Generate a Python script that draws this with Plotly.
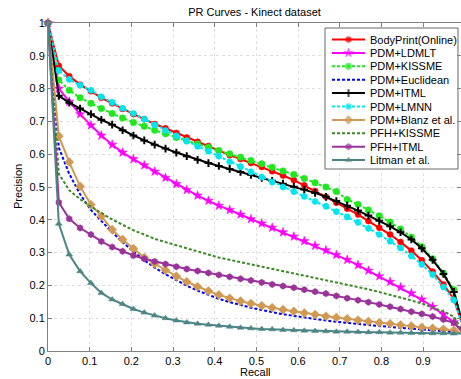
import plotly.graph_objects as go

# ---------------- data ----------------
recall = [0.0, 0.026, 0.051, 0.077, 0.103, 0.128, 0.154, 0.179, 0.205, 0.231,
          0.256, 0.282, 0.308, 0.333, 0.359, 0.385, 0.410, 0.436, 0.462, 0.487,
          0.513, 0.538, 0.564, 0.590, 0.615, 0.641, 0.667, 0.692, 0.718, 0.744,
          0.769, 0.795, 0.821, 0.846, 0.872, 0.897, 0.923, 0.949, 0.974, 1.0]

bodyprint = [1.0, 0.870, 0.838, 0.812, 0.792, 0.772, 0.755, 0.738, 0.722, 0.707,
             0.692, 0.679, 0.665, 0.651, 0.638, 0.625, 0.610, 0.597, 0.585, 0.573,
             0.561, 0.548, 0.535, 0.521, 0.505, 0.488, 0.470, 0.452, 0.434, 0.416,
             0.396, 0.376, 0.355, 0.332, 0.306, 0.277, 0.242, 0.203, 0.158, 0.060]
pdm_ldmlt = [1.0, 0.800, 0.760, 0.722, 0.688, 0.657, 0.629, 0.605, 0.585, 0.566,
             0.547, 0.528, 0.509, 0.491, 0.474, 0.458, 0.443, 0.430, 0.416, 0.402,
             0.389, 0.376, 0.362, 0.349, 0.335, 0.321, 0.307, 0.293, 0.278, 0.262,
             0.245, 0.228, 0.211, 0.194, 0.176, 0.157, 0.135, 0.112, 0.088, 0.050]
pdm_kissme = [1.0, 0.826, 0.795, 0.772, 0.755, 0.739, 0.724, 0.710, 0.697, 0.685,
              0.673, 0.662, 0.651, 0.641, 0.631, 0.621, 0.611, 0.601, 0.591, 0.581,
              0.571, 0.560, 0.549, 0.538, 0.526, 0.513, 0.500, 0.486, 0.462, 0.447,
              0.430, 0.412, 0.393, 0.372, 0.347, 0.318, 0.281, 0.237, 0.187, 0.060]
pdm_euclid = [1.0, 0.620, 0.540, 0.478, 0.430, 0.396, 0.362, 0.332, 0.303, 0.277,
              0.254, 0.234, 0.216, 0.199, 0.184, 0.171, 0.159, 0.149, 0.140, 0.132,
              0.125, 0.118, 0.112, 0.107, 0.102, 0.097, 0.093, 0.089, 0.085, 0.082,
              0.079, 0.076, 0.073, 0.071, 0.068, 0.066, 0.063, 0.061, 0.058, 0.053]
pdm_itml = [1.0, 0.778, 0.757, 0.739, 0.722, 0.705, 0.690, 0.673, 0.657, 0.642,
            0.629, 0.617, 0.605, 0.594, 0.583, 0.573, 0.564, 0.555, 0.546, 0.537,
            0.528, 0.519, 0.510, 0.501, 0.492, 0.482, 0.470, 0.457, 0.443, 0.428,
            0.413, 0.397, 0.380, 0.362, 0.340, 0.313, 0.278, 0.235, 0.180, 0.060]
pdm_lmnn = [1.0, 0.855, 0.828, 0.810, 0.795, 0.775, 0.758, 0.740, 0.724, 0.707,
            0.689, 0.672, 0.656, 0.640, 0.624, 0.609, 0.594, 0.577, 0.562, 0.546,
            0.530, 0.515, 0.500, 0.486, 0.471, 0.456, 0.441, 0.425, 0.409, 0.392,
            0.374, 0.355, 0.335, 0.314, 0.290, 0.264, 0.233, 0.195, 0.155, 0.060]
pdm_blanz = [1.0, 0.655, 0.576, 0.502, 0.446, 0.411, 0.370, 0.340, 0.312, 0.285,
             0.266, 0.246, 0.228, 0.211, 0.196, 0.183, 0.171, 0.161, 0.152, 0.145,
             0.138, 0.132, 0.126, 0.121, 0.116, 0.111, 0.106, 0.102, 0.098, 0.094,
             0.090, 0.086, 0.083, 0.079, 0.076, 0.072, 0.069, 0.066, 0.063, 0.050]
pfh_kissme = [1.0, 0.540, 0.490, 0.463, 0.440, 0.420, 0.401, 0.385, 0.368, 0.355,
              0.342, 0.332, 0.322, 0.312, 0.302, 0.294, 0.285, 0.278, 0.271, 0.264,
              0.257, 0.250, 0.244, 0.237, 0.231, 0.224, 0.217, 0.210, 0.203, 0.196,
              0.188, 0.180, 0.172, 0.163, 0.154, 0.145, 0.133, 0.120, 0.105, 0.050]
pfh_itml = [1.0, 0.453, 0.403, 0.375, 0.355, 0.334, 0.317, 0.304, 0.291, 0.281,
            0.273, 0.265, 0.257, 0.250, 0.244, 0.238, 0.232, 0.226, 0.220, 0.215,
            0.209, 0.203, 0.198, 0.193, 0.187, 0.181, 0.175, 0.168, 0.161, 0.155,
            0.149, 0.142, 0.135, 0.128, 0.120, 0.113, 0.105, 0.096, 0.086, 0.050]
litman = [1.0, 0.388, 0.294, 0.243, 0.207, 0.177, 0.157, 0.143, 0.128, 0.117,
          0.108, 0.100, 0.093, 0.087, 0.083, 0.080, 0.077, 0.074, 0.071, 0.069,
          0.067, 0.066, 0.064, 0.063, 0.062, 0.061, 0.060, 0.059, 0.059, 0.058,
          0.057, 0.057, 0.056, 0.056, 0.055, 0.055, 0.054, 0.054, 0.053, 0.053]

series_names = ["BodyPrint(Online)", "PDM+LDMLT", "PDM+KISSME", "PDM+Euclidean",
                "PDM+ITML", "PDM+LMNN", "PDM+Blanz et al.", "PFH+KISSME",
                "PFH+ITML", "Litman et al."]
series_values = [bodyprint, pdm_ldmlt, pdm_kissme, pdm_euclid, pdm_itml,
                 pdm_lmnn, pdm_blanz, pfh_kissme, pfh_itml, litman]

x_ticks = [0, 0.1, 0.2, 0.3, 0.4, 0.5, 0.6, 0.7, 0.8, 0.9]
x_ticklabels = ["0", "0.1", "0.2", "0.3", "0.4", "0.5", "0.6", "0.7", "0.8", "0.9"]
y_ticks = [0, 0.1, 0.2, 0.3, 0.4, 0.5, 0.6, 0.7, 0.8, 0.9, 1.0]
y_ticklabels = ["0", "0.1", "0.2", "0.3", "0.4", "0.5", "0.6", "0.7", "0.8", "0.9", "1"]

# ---------------- styles ----------------
styles = [
    dict(color="#ff0000", dash="solid", symbol="circle", size=6, open=False),
    dict(color="#ff00ff", dash="solid", symbol="star", size=7, open=False),
    dict(color="#1ee81e", dash="3px,2px", symbol="circle", size=6.5, open=False),
    dict(color="#0000ff", dash="3px,2px", symbol=None, size=0, open=False),
    dict(color="#000000", dash="solid", symbol="cross-thin-open", size=5.5, open=True),
    dict(color="#00e5ee", dash="3px,2px", symbol="asterisk-open", size=5.5, open=True),
    dict(color="#d09a55", dash="solid", symbol="diamond", size=7, open=False),
    dict(color="#3a8a26", dash="3px,2px", symbol=None, size=0, open=False),
    dict(color="#993399", dash="solid", symbol="hexagon", size=6.5, open=False),
    dict(color="#4d8585", dash="solid", symbol="triangle-up", size=6, open=False),
]

FONT = "Liberation Sans, Arial, Helvetica, sans-serif"
W, H = 461, 379
ML, MR, MT, MB = 48, 0, 23, 28
PX_PER_UNIT = 416.7
XMAX = (W - ML - MR) / PX_PER_UNIT

fig = go.Figure()


def marker_dict(st, size):
    if st["symbol"] is None:
        return None
    m = dict(symbol=st["symbol"], size=size, color=st["color"])
    if st["open"]:
        m["line"] = dict(color=st["color"], width=2)
    else:
        m["line"] = dict(color=st["color"], width=0.5)
    return m


for name, vals, st in zip(series_names, series_values, styles):
    mode = "lines+markers" if st["symbol"] else "lines"
    tr = dict(x=recall, y=vals, name=name, mode=mode,
              line=dict(color=st["color"], width=2, dash=st["dash"]),
              showlegend=False, cliponaxis=False, hoverinfo="skip")
    md = marker_dict(st, st["size"])
    if md:
        tr["marker"] = md
    fig.add_trace(go.Scatter(**tr))

# ---------------- custom legend (pixel layout -> data coords) ----------------
def xd(px):
    return (px - ML) / PX_PER_UNIT


def yd(py):
    return (H - MB - py) / (H - MT - MB)


box_l, box_r, box_t, box_b = 325, 458, 28, 169
fig.add_trace(go.Scatter(
    x=[xd(box_l), xd(box_r), xd(box_r), xd(box_l), xd(box_l)],
    y=[yd(box_t), yd(box_t), yd(box_b), yd(box_b), yd(box_t)],
    mode="lines", fill="toself", fillcolor="white",
    line=dict(color="#666666", width=1), showlegend=False, hoverinfo="skip"))

row0, row_step = 39.5, 13.4
for i, (name, st) in enumerate(zip(series_names, styles)):
    ry = yd(row0 + row_step * i)
    mode = "lines+markers" if st["symbol"] else "lines"
    tr = dict(x=[xd(332), xd(348.5), xd(365)], y=[ry, ry, ry], mode=mode,
              line=dict(color=st["color"], width=2, dash=st["dash"]),
              showlegend=False, hoverinfo="skip")
    md = marker_dict(st, [0, st["size"], 0])
    if md:
        tr["marker"] = md
    fig.add_trace(go.Scatter(**tr))
    fig.add_annotation(x=xd(368), y=ry, xref="x", yref="y", text=name,
                       showarrow=False, xanchor="left", yanchor="middle",
                       font=dict(family=FONT, size=11, color="black"))

# axis titles
fig.add_annotation(x=0.503, y=(H - MB - 372) / (H - MT - MB), xref="paper", yref="paper",
                   text="Recall", showarrow=False, xanchor="center", yanchor="middle",
                   font=dict(family=FONT, size=11, color="black"))
fig.add_annotation(x=(18 - ML) / (W - ML - MR), y=0.5, xref="paper", yref="paper",
                   text="Precision", textangle=-90, showarrow=False,
                   xanchor="center", yanchor="middle",
                   font=dict(family=FONT, size=11, color="black"))

axis_common = dict(
    showgrid=True, gridcolor="#dedede", griddash="3px,3px", gridwidth=1,
    ticks="inside", ticklen=4, tickcolor="#808080", tickwidth=1,
    showline=True, linecolor="#808080", linewidth=1, mirror="allticks",
    zeroline=False, tickfont=dict(family=FONT, size=11, color="black"),
)

fig.update_layout(
    width=W, height=H,
    margin=dict(l=ML, r=MR, t=MT, b=MB),
    paper_bgcolor="white", plot_bgcolor="white",
    title=dict(text="PR Curves - Kinect dataset", x=0.5 * (ML + W) / W, xanchor="center",
               y=1 - 12.5 / H, yanchor="middle", yref="container",
               font=dict(family=FONT, size=11, color="black")),
    xaxis=dict(range=[0, XMAX], tickvals=x_ticks, ticktext=x_ticklabels, **axis_common),
    yaxis=dict(range=[0, 1], tickvals=y_ticks, ticktext=y_ticklabels, **axis_common),
    showlegend=False,
)

fig.write_html(
    "out.html",
    config={"displayModeBar": False},
    post_script="document.body.style.margin='0';document.body.style.overflow='hidden';",
)
